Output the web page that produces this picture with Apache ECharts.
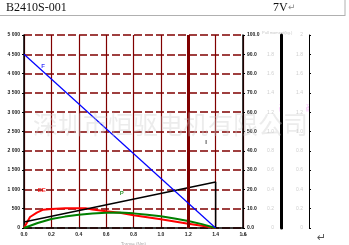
<!DOCTYPE html>
<html><head><meta charset="utf-8">
<script src="https://cdn.jsdelivr.net/npm/echarts@6/dist/echarts.min.js"></script>
<style>html,body{margin:0;padding:0;background:#fff}#c{width:349px;height:245px}</style>
</head><body><div id="c"></div>
<script>
// Torque (Nm) / value arrays
var speedT = [0, 1.4];
var speedV = [4500, 0];
var curT = [0, 1.4, 1.4];
var curV = [155, 1190, 0];
var effT = [0, 0.02, 0.044, 0.094, 0.14, 0.2, 0.3, 0.45, 0.5, 0.6, 0.7, 0.8, 0.9, 1.0, 1.1, 1.2, 1.3, 1.4];
var effV = [0, 130, 285, 397, 474, 491, 509, 509, 480, 431, 397, 328, 276, 224, 170, 112, 60, 0];
var powT = [0, 0.1, 0.2, 0.3, 0.4, 0.5, 0.6, 0.7, 0.8, 0.9, 1.0, 1.1, 1.2, 1.3, 1.4];
var powV = [0, 129, 233, 295, 345, 375, 397, 400, 379, 345, 302, 245, 181, 100, 0];
var xTicks = ['0.0','0.2','0.4','0.6','0.8','1.0','1.2','1.4','1.6'];
var tags = [
  {name:'F', t:0.14, v:4200, color:'#0000ff'},
  {name:'EE', t:0.13, v:985, color:'#ff0000'},
  {name:'P', t:0.715, v:905, color:'#008000'},
  {name:'I', t:1.33, v:2230, color:'#000000'}
];
function zip(a,b){return a.map(function(x,i){return [x,b[i]];});}

var chart = echarts.init(document.getElementById('c'), null, {renderer:'canvas'});
var tiny = {fontSize:5, fontFamily:'Arial', color:'#222', fontWeight:'bold'};
var faint = {fontSize:5, fontFamily:'Arial', color:'#cfcfcf'};
chart.setOption({
  animation:false,
  backgroundColor:'#fff',
  grid:{left:24, right:106, top:35, bottom:17, containLabel:false, outerBoundsMode:'none'},
  xAxis:{type:'value', min:0, max:1.6, interval:0.2,
    name:'Torque (Nm)', nameLocation:'middle', nameGap:9,
    nameTextStyle:{fontSize:4.5, color:'#aaa', fontFamily:'Arial'},
    axisLine:{lineStyle:{color:'#000', width:1.5}},
    axisTick:{show:false},
    axisLabel:Object.assign({margin:4, formatter:function(v){var i=Math.round(v/0.2);return xTicks[i]||'';}}, tiny),
    splitLine:{show:true, lineStyle:{color:'#800000', width:1.2, type:'solid'}}
  },
  yAxis:[
    {type:'value', min:0, max:5000, interval:500, position:'left',
      name:'Speed (rpm)', nameLocation:'middle', nameGap:13,
      nameTextStyle:{fontSize:4.5, color:'#bbb', fontFamily:'Arial'},
      axisLine:{show:true, lineStyle:{color:'#000', width:1.5}},
      axisTick:{show:true, length:2, lineStyle:{color:'#000'}},
      axisLabel:Object.assign({margin:4, formatter:function(v){return v>=1000?(Math.floor(v/1000)+' '+String(v%1000).padStart(3,'0')):String(v);}}, tiny),
      splitLine:{show:true, lineStyle:{color:'#800000', width:1.5, type:[8,3]}}
    },
    {type:'value', min:0, max:100, interval:10, position:'right', offset:0,
      axisLine:{show:true, lineStyle:{color:'#000', width:1.5}},
      axisTick:{show:true, length:2, lineStyle:{color:'#000'}},
      axisLabel:Object.assign({margin:4, formatter:function(v){return v.toFixed(1);}}, tiny),
      splitLine:{show:false}
    },
    {type:'value', min:0, max:2, interval:0.2, position:'right', offset:38,
      axisLine:{show:true, lineStyle:{color:'#000', width:3}},
      axisTick:{show:true, length:2, lineStyle:{color:'#000'}},
      axisLabel:Object.assign({inside:true, margin:7, showMaxLabel:false, formatter:function(v){return (v===0||v===2)?String(v):v.toFixed(1);}}, faint),
      splitLine:{show:false}
    },
    {type:'value', min:0, max:2, interval:0.2, position:'right', offset:66,
      axisLine:{show:true, lineStyle:{color:'#000', width:1}},
      axisTick:{show:true, length:2, lineStyle:{color:'#000'}},
      axisLabel:Object.assign({inside:true, margin:6, formatter:function(v){return (v===0||v===2)?String(v):v.toFixed(1);}}, faint),
      splitLine:{show:false}
    }
  ],
  series:[
    {type:'line', data:zip(speedT,speedV), symbol:'none', lineStyle:{color:'#0000ff', width:1.2}, z:5,
      markLine:{silent:true, symbol:'none', label:{show:false},
        lineStyle:{color:'#800000', width:3, type:'solid'}, data:[{xAxis:1.2}]}},
    {type:'line', data:zip(curT,curV), symbol:'none', lineStyle:{color:'#000', width:1.5}, z:4},
    {type:'line', data:zip(effT,effV), symbol:'none', lineStyle:{color:'#ff0000', width:2}, z:3},
    {type:'line', data:zip(powT,powV), symbol:'none', lineStyle:{color:'#008000', width:2}, z:3},
    {type:'scatter', symbolSize:0, data:tags.map(function(d){return {value:[d.t,d.v], label:{show:true, position:'inside', formatter:d.name, color:d.color, fontSize:6, fontWeight:'bold', fontFamily:'Arial'}};}), z:6}
  ],
  graphic:[
    {type:'text', left:33, top:112, z:10, style:{text:'深圳市恒驱电机有限公司', font:'25px "Noto Sans CJK SC"', fill:'rgba(205,205,205,0.38)'}},
    {type:'text', left:6, top:2, style:{text:'B2410S-001', font:'12px "Liberation Serif"', fill:'#111'}},
    {type:'text', left:273, top:2, style:{text:'7V', font:'12px "Liberation Serif"', fill:'#111'}},
    {type:'text', left:288, top:3, style:{text:'↵', font:'9px "DejaVu Sans"', fill:'#888'}},
    {type:'line', shape:{x1:0, y1:15.5, x2:345, y2:15.5}, style:{stroke:'#b0b0b0', lineWidth:1}},
    {type:'line', shape:{x1:345, y1:0, x2:345, y2:16}, style:{stroke:'#b0b0b0', lineWidth:1}},
    {type:'text', left:262, top:31, style:{text:'Pull moment(kg.)', font:'4px Arial', fill:'#c8c8c8'}},
    {type:'text', x:283, y:104, rotation:-Math.PI/2, style:{text:'Pull', font:'4.5px Arial', fill:'#f4b0f4'}},
    {type:'text', x:310, y:104, rotation:-Math.PI/2, style:{text:'Pull', font:'4.5px Arial', fill:'#f4b0f4'}},
    {type:'text', left:242, top:233, style:{text:'Un', font:'4px Arial', fill:'#444'}},
    {type:'text', left:317, top:233, style:{text:'↵', font:'11px "DejaVu Sans"', fill:'#555'}}
  ]
});
</script></body></html>
